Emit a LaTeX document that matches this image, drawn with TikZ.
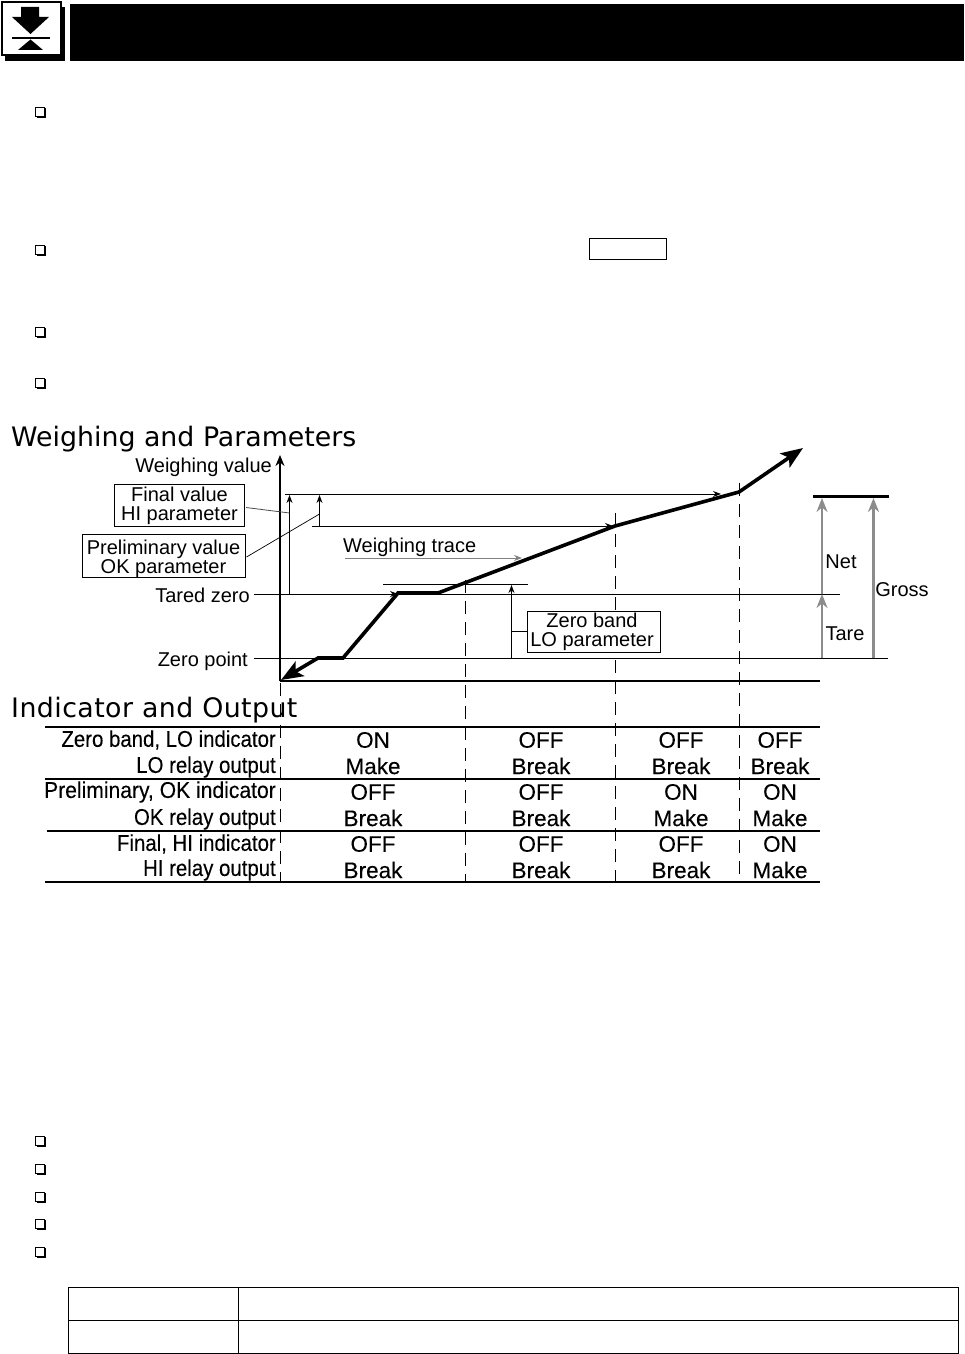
\documentclass[tikz,border=0pt]{standalone}
\usepackage{fontspec}
\setmainfont{Liberation Sans}
\newfontfamily\headfont{DejaVu Sans}
\newfontfamily\headwide[LetterSpace=1.6]{DejaVu Sans}
\newfontfamily\condfont[FakeStretch=0.895,FakeBold=0.12]{Liberation Sans}
\newfontfamily\condwide[FakeStretch=0.925,FakeBold=0.12]{Liberation Sans}
\newfontfamily\cellfont[FakeBold=0.12]{Liberation Sans}
\usetikzlibrary{arrows.meta}
\tikzset{
 x=1pt,y=-1pt,
 labeltext/.style={inner sep=0pt,font=\fontsize{20}{21}\selectfont,align=center},
 rowtext/.style={inner sep=0pt,anchor=east,font=\condfont\fontsize{22.8}{24}\selectfont},
 rowwide/.style={inner sep=0pt,anchor=east,font=\condwide\fontsize{22.8}{24}\selectfont},
 celltext/.style={inner sep=0pt,font=\cellfont\fontsize{22.5}{24}\selectfont},
 headtext/.style={inner sep=0pt,anchor=west,font=\headfont\fontsize{26.8}{29}\selectfont},
 headtextwide/.style={inner sep=0pt,anchor=west,font=\headwide\fontsize{26.8}{29}\selectfont},
 parambox/.style={draw,fill=white,line width=1pt,inner sep=0pt,font=\fontsize{20}{19}\selectfont,align=center},
 thin line/.style={line width=1pt},
 small tip/.style={-{Stealth[length=8pt,width=6pt]}},
 gray arrow/.style={draw=gray!90,line width=2.2pt,-{Stealth[length=14pt,width=11pt]}},
 trace/.style={line width=3.6pt,line join=miter},
 guide/.style={line width=1pt,dash pattern=on 13pt off 8pt},
 rule/.style={line width=1.2pt},
 bullet box/.style={draw,line width=1.2pt,fill=white,minimum size=8.5pt,inner sep=0pt},
}
\newcommand{\bulletat}[2]{\fill (37,#1+#2-4) rectangle (46,#1+#2+6);\node[bullet box] (b#1) at (40,#1+#2) {};}
\begin{document}
\begin{tikzpicture}
\useasboundingbox (0,0) rectangle (964,1354);
% header
\fill (5,7) rectangle (65,61);
\draw[line width=2.4pt,fill=white] (2.2,2.2) rectangle (61,55);
\fill (21,7) -- (39,7) -- (39,17) -- (49,17) -- (30.5,34) -- (12,17) -- (21,17) -- cycle;
\fill (12,37) rectangle (50,39.5);
\fill (30.5,39.5) -- (43,50) -- (18,50) -- cycle;
\fill (70,4) rectangle (964,61);
% bullets
\foreach \y in {112,250,332,383,1141,1169,1197,1224,1252}{\bulletat{\y}{0}}
\node[draw,line width=1pt,minimum width=77pt,minimum height=21pt,inner sep=0pt] (keybox) at (627.5,249) {};
% headings
\node[headtext] (h1) at (11,439) {Weighing and Parameters};
\node[headtextwide] (h2) at (11,710) {Indicator and Output};
% guides
\coordinate (g0a) at (280,683); \coordinate (g0b) at (280,882);
\coordinate (g1a) at (465,580); \coordinate (g1b) at (465,882);
\coordinate (g2a) at (615,513); \coordinate (g2b) at (615,882);
\coordinate (g3a) at (739,483); \coordinate (g3b) at (739,882);
\foreach \n in {0,1,2,3}{\draw[guide] (g\n a) -- (g\n b);}
% axes
\coordinate (origin) at (280,681); \coordinate (ytop) at (280,455); \coordinate (xend) at (820,681);
\draw[line width=2.8pt,-{Stealth[length=11pt,width=9pt]}] (origin) -- (ytop);
\draw[line width=2.4pt] (origin) -- (xend);
% level labels
\node[labeltext,anchor=east] (wv) at (272,467) {Weighing value};
\node[labeltext,anchor=east] (tz) at (250,595) {Tared zero};
\node[labeltext,anchor=east] (zp) at (248,661) {Zero point};
% levels
\coordinate (tzA) at (254,594); \coordinate (tzB) at (398,594); \coordinate (tzC) at (438,594); \coordinate (tzD) at (840,594);
\coordinate (zpA) at (254,658); \coordinate (zpB) at (888,658);
\draw[thin line,small tip] (tzA) -- (tzB);
\draw[thin line] (tzC) -- (tzD);
\draw[thin line] (zpA) -- (zpB);
\coordinate (fvA) at (285,494); \coordinate (fvB) at (721,494);
\coordinate (pvA) at (312,526); \coordinate (pvB) at (613,526);
\draw[thin line,small tip] (fvA) -- (fvB);
\draw[thin line,small tip] (pvA) -- (pvB);
\coordinate (zbA) at (383,584); \coordinate (zbB) at (528,584);
\draw[thin line] (zbA) -- (zbB);
% vertical parameter arrows
\coordinate (a1) at (289.5,594); \coordinate (a1t) at (289.5,495);
\coordinate (a2) at (319.5,526); \coordinate (a2t) at (319.5,495);
\coordinate (a3) at (511.5,658); \coordinate (a3t) at (511.5,585);
\draw[thin line,small tip] (a1) -- (a1t);
\draw[thin line,small tip] (a2) -- (a2t);
\draw[thin line,small tip] (a3) -- (a3t);
% parameter boxes
\node[parambox,minimum width=130pt,minimum height=42pt] (final) at (179.5,505.5) {\rule{0pt}{16pt}Final value\\HI parameter};
\node[parambox,minimum width=163pt,minimum height=42pt] (prelim) at (163.5,556) {\rule{0pt}{20pt}Preliminary value\\OK parameter};
\node[parambox,minimum width=133pt,minimum height=41pt] (zband) at (593.5,631.5) {\hspace*{-3pt}Zero band\\\hspace*{-3pt}LO parameter};
\coordinate (fTo) at (289.5,513); \coordinate (pTo) at (319.5,514); \coordinate (zTo) at (511.5,631.5);
\draw[line width=.8pt,draw=black!70] (final.east) ++(1,2) -- (fTo);
\draw[line width=.7pt] (prelim.east) ++(1,1) -- (pTo);
\draw[thin line] (zband.west) -- (zTo);
% weighing trace
\node[labeltext,anchor=west] (wt) at (343,547) {Weighing trace};
\coordinate (wtA) at (345,558); \coordinate (wtB) at (522,558);
\draw[line width=1pt,draw=gray,small tip] (wtA) -- (wtB);
% trace curve
\coordinate (t0) at (281,680); \coordinate (t1) at (318,658); \coordinate (t2) at (343,658);
\coordinate (t3) at (398,593); \coordinate (t4) at (438,593); \coordinate (t5) at (615,526);
\coordinate (t6) at (739,492); \coordinate (t7) at (803,448);
\draw[trace,{Stealth[length=22pt,width=17pt,inset=5pt]}-{Stealth[length=22pt,width=17pt,inset=5pt]}] (t0) -- (t1) -- (t2) -- (t3) -- (t4) -- (t5) -- (t6) -- (t7);
% net / gross
\coordinate (lvA) at (813,496.5); \coordinate (lvB) at (889,496.5);
\draw[line width=3.4pt] (lvA) -- (lvB);
\coordinate (taA) at (822,658); \coordinate (taB) at (822,594);
\coordinate (neB) at (822,498); \coordinate (grA) at (873.5,658); \coordinate (grB) at (873.5,498);
\draw[gray arrow] (taA) -- (taB);
\draw[gray arrow] (taB) -- (neB);
\draw[gray arrow] (grA) -- (grB);
\node[labeltext] (net) at (841,562) {Net};
\node[labeltext] (tare) at (845,634) {Tare};
\node[labeltext] (gross) at (902,590) {Gross};
% table rules
\coordinate (r0a) at (45,727); \coordinate (r0b) at (820,727);
\coordinate (r1a) at (45,779); \coordinate (r1b) at (820,779);
\coordinate (r2a) at (47,831); \coordinate (r2b) at (820,831);
\coordinate (r3a) at (45,882); \coordinate (r3b) at (820,882);
\foreach \n in {0,1,2,3}{\draw[rule] (r\n a) -- (r\n b);}
% row labels
\node[rowtext] (l1) at (276,740) {Zero band, LO indicator};
\node[rowtext] (l2) at (276,767) {LO relay output};
\node[rowwide] (l3) at (276,792) {Preliminary, OK indicator};
\node[rowtext] (l4) at (276,819) {OK relay output};
\node[rowtext] (l5) at (276,844) {Final, HI indicator};
\node[rowtext] (l6) at (276,870) {HI relay output};
% cells
\node[celltext] (c11) at (373,740) {ON};   \node[celltext] (c12) at (373,766) {Make};
\node[celltext] (c13) at (373,792) {OFF};  \node[celltext] (c14) at (373,818) {Break};
\node[celltext] (c15) at (373,844) {OFF};  \node[celltext] (c16) at (373,870) {Break};
\node[celltext] (c21) at (541,740) {OFF};  \node[celltext] (c22) at (541,766) {Break};
\node[celltext] (c23) at (541,792) {OFF};  \node[celltext] (c24) at (541,818) {Break};
\node[celltext] (c25) at (541,844) {OFF};  \node[celltext] (c26) at (541,870) {Break};
\node[celltext] (c31) at (681,740) {OFF};  \node[celltext] (c32) at (681,766) {Break};
\node[celltext] (c33) at (681,792) {ON};   \node[celltext] (c34) at (681,818) {Make};
\node[celltext] (c35) at (681,844) {OFF};  \node[celltext] (c36) at (681,870) {Break};
\node[celltext] (c41) at (780,740) {OFF};  \node[celltext] (c42) at (780,766) {Break};
\node[celltext] (c43) at (780,792) {ON};   \node[celltext] (c44) at (780,818) {Make};
\node[celltext] (c45) at (780,844) {ON};   \node[celltext] (c46) at (780,870) {Make};
% bottom table
\draw[line width=1.3pt] (68.5,1287.5) rectangle (958.5,1353.5);
\draw[line width=1.3pt] (68.5,1320.5) -- (958.5,1320.5);
\draw[line width=1.3pt] (238.5,1287.5) -- (238.5,1353.5);
\end{tikzpicture}
\end{document}
